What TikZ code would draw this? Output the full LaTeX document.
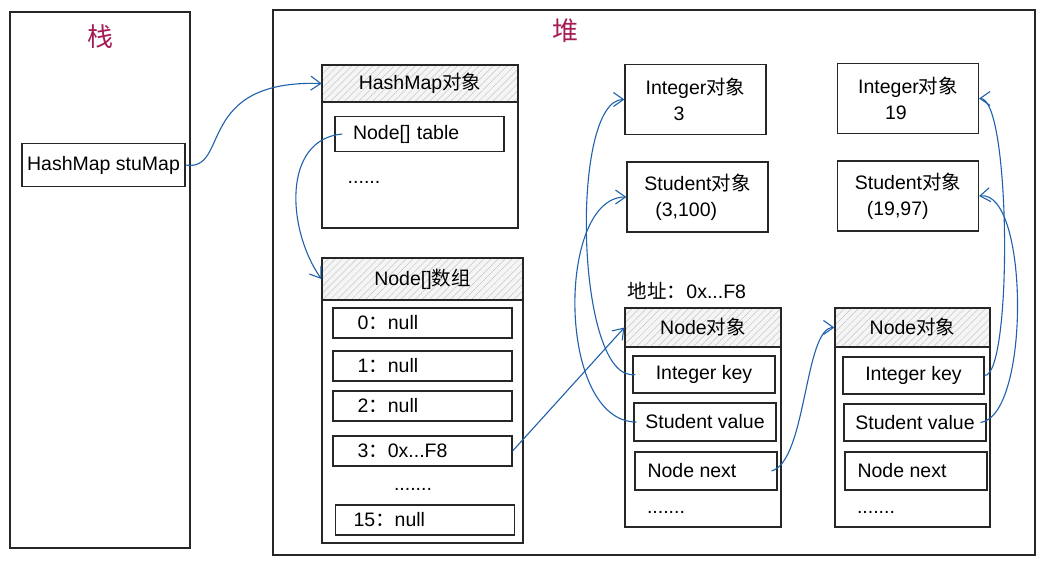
\documentclass[tikz,border=0pt]{standalone}
\usepackage{fontspec}
\setmainfont{Liberation Sans}
\newfontfamily\cjk{Noto Sans CJK SC}
\usetikzlibrary{arrows.meta,patterns.meta}
\definecolor{linkblue}{RGB}{31,97,172}
\definecolor{titlered}{RGB}{165,28,85}
\newcommand{\zh}[1]{{\cjk #1}}

\begin{document}
\begin{tikzpicture}[x=1pt, y=-1pt, font=\fontsize{19.5}{26}\selectfont,
  frame/.style={draw=black!85, line width=1.2pt},
  cell/.style 2 args={frame, inner sep=0pt, minimum width=#1pt, minimum height=#2pt},
  lcell/.style={frame, inner xsep=18pt, inner ysep=0pt, align=left, text width=#1pt, minimum height=30pt},
  head/.style 2 args={cell={#1}{#2}, preaction={fill=gray!8},
    pattern={Lines[angle=45,distance=5pt,line width=0.5pt]}, pattern color=gray!45},
  obj/.style={cell={141}{70}, align=left},
  title/.style={text=titlered, font=\fontsize{26}{30}\selectfont\cjk},
  link/.style={draw=linkblue, line width=1.1pt, -{Straight Barb[length=10pt,width=14pt]}}]
  \path[use as bounding box, fill=white] (0,0) rectangle (1045,566);

  % stack and heap
  \node[cell={180}{536}] (stack) at (100,280) {};
  \node[title] (stackT) at (100,37) {栈};
  \node[cell={762}{545}] (heap) at (654,282.5) {};
  \node[title] (heapT) at (565,31) {堆};

  \node[cell={163}{43}] (stu) at (103.5,165) {HashMap stuMap};

  % HashMap object
  \node[cell={196}{126}] (hmB) at (420,165) {};
  \node[head={196}{37}] (hmH) at (420,83.5) {HashMap\zh{对象}};
  \node[lcell=133, minimum height=35pt] (tbl) at (419.5,134) {Node[] table};
  \node (hmDots) at (364,182) {......};

  % Node[] array
  \node[cell={201}{243}] (ndB) at (422.5,421.5) {};
  \node[head={201}{42}] (ndH) at (422.5,279) {Node[]\zh{数组}};
  \node[lcell=143] (r0) at (422.5,323) {\ 0\zh{：}null};
  \node[lcell=143] (r1) at (422.5,366) {\ 1\zh{：}null};
  \node[lcell=143] (r2) at (422.5,406) {\ 2\zh{：}null};
  \node[lcell=143] (r3) at (422.5,451) {\ 3\zh{：}0x...F8};
  \node (ndDots) at (413,489) {.......};
  \node[lcell=143] (r15) at (425,520) {15\zh{：}null};

  % key / value objects
  \node[obj] (int3) at (695.5,99.5) {Integer\zh{对象}\\\hspace*{28pt}3};
  \node[obj] (stu3) at (697.5,197) {Student\zh{对象}\\\hspace*{11pt}(3,100)};
  \node[obj] (int19) at (908,98.5) {Integer\zh{对象}\\\hspace*{27pt}19};
  \node[obj] (stu19) at (908,196) {Student\zh{对象}\\\hspace*{12pt}(19,97)};

  % first Node
  \node (addr) at (687,291) {\zh{地址：}0x...F8};
  \node[cell={156}{180}] (n1B) at (703,437) {};
  \node[head={156}{39}] (n1H) at (703,327.5) {Node\zh{对象}};
  \node[cell={142}{37}] (k1) at (704,374.5) {Integer key};
  \node[cell={142}{38}] (v1) at (705,422) {Student value};
  \node[cell={142}{38}] (x1) at (706,471) {Node next\hspace*{28pt}};
  \node (dots1) at (666,512) {.......};

  % second Node
  \node[cell={155}{180}] (n2B) at (912.5,437) {};
  \node[head={155}{39}] (n2H) at (912.5,327.5) {Node\zh{对象}};
  \node[cell={141}{37}] (k2) at (913.5,375.5) {Integer key};
  \node[cell={142}{37}] (v2) at (915,422.5) {Student value};
  \node[cell={142}{38}] (x2) at (916,471) {Node next\hspace*{28pt}};
  \node (dots2) at (876,512) {.......};

  % references
  \draw[link] (stu.east) .. controls +(45,7) and +(-128,-4) .. (hmH.west);
  \draw[link] ([xshift=8pt]tbl.west) .. controls +(-60,5) and +(-35,-50) .. (ndH.west);
  \draw[link] (r3.east) -- (n1H.west);
  \draw[link] ([xshift=3pt]k1.west) .. controls +(-60,10) and +(-55,0) .. (int3.west);
  \draw[link] ([xshift=3pt]v1.west) .. controls +(-80,0) and +(-70,0) .. (stu3.west);
  \draw[link] ([xshift=-6pt]x1.east) .. controls +(35,-10) and +(-30,0) .. (n2H.west);
  \draw[link] (k2.east) .. controls +(28,0) and +(32,0) .. (int19.east);
  \draw[link] ([xshift=-6pt]v2.east) .. controls +(50,-7) and +(50,-6) .. (stu19.east);
\end{tikzpicture}
\end{document}
